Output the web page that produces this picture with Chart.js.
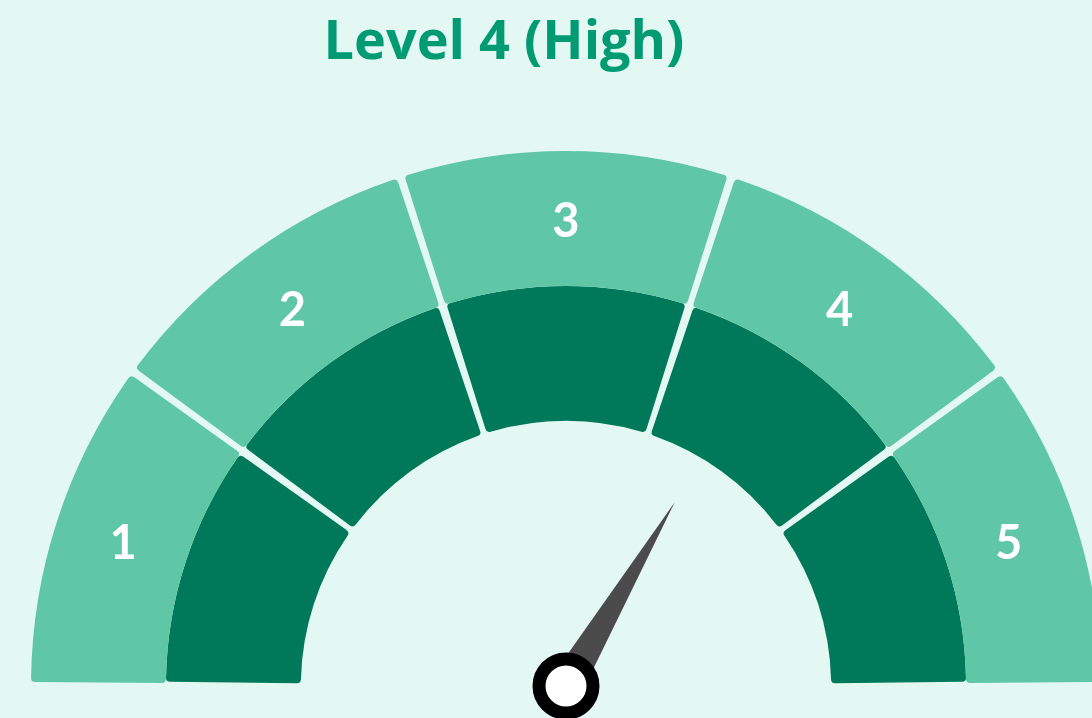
<!DOCTYPE html>
<html lang="en">
<head>
    <meta charset="UTF-8">
    <title>Level 4 (High)</title>
    <script src="https://cdn.jsdelivr.net/npm/chart.js"></script>
    <style>
        body { margin: 0; background: #e4f8f3; }
        #wrap { position: relative; width: 1092px; height: 718px; overflow: hidden; }
        h1 {
            position: absolute; top: 11px; left: 0; width: 1008px; margin: 0;
            text-align: center; font: bold 54px/54px "Open Sans", sans-serif; color: #009b72;
        }
        canvas { position: absolute; left: 0; top: 0; }
    </style>
</head>
<body>
    <div id="wrap">
        <h1 id="title"></h1>
        <canvas id="gauge" width="1092" height="718"></canvas>
    </div>

    <script>
        // gauge data
        var titleText = 'Level 4 (High)';
        var levels = ['1', '2', '3', '4', '5'];
        var bandSizes = [20, 20, 20, 20, 20];
        var gaugeValue = 67;

        var ringSpacing = 22;

        document.getElementById('title').textContent = titleText;

        // labels 1..5 in the middle of the outer ring
        var levelLabels = {
            id: 'levelLabels',
            afterDatasetsDraw: function(chart) {
                var ctx = chart.ctx;
                var arcs = chart.getDatasetMeta(0).data;
                var size = 47;
                ctx.save();
                ctx.fillStyle = '#ffffff';
                ctx.font = 'bold ' + size + 'px Lato';
                ctx.textAlign = 'center';
                ctx.textBaseline = 'alphabetic';
                arcs.forEach(function(arc, i) {
                    var a = (arc.startAngle + arc.endAngle) / 2;
                    // arcs are drawn spacing/2 further out than their radii
                    var r = (arc.innerRadius + arc.outerRadius) / 2 + ringSpacing / 2 - 2;
                    var x = arc.x + Math.cos(a) * r;
                    var y = arc.y + Math.sin(a) * r + size * 0.36;
                    ctx.fillText(levels[i], x, y);
                });
                ctx.restore();
            }
        };

        // needle pointing at gaugeValue
        var needle = {
            id: 'needle',
            afterDatasetsDraw: function(chart) {
                var ctx = chart.ctx;
                var arcs = chart.getDatasetMeta(0).data;
                var first = arcs[0], last = arcs[arcs.length - 1];
                var total = bandSizes.reduce(function(a, b) { return a + b; }, 0);
                var angle = first.startAngle + (last.endAngle - first.startAngle) * gaugeValue / total;
                var len = first.outerRadius * 0.407;
                var half = 17;
                var cx = first.x, cy = first.y;
                ctx.save();
                ctx.translate(cx, cy);
                ctx.rotate(angle);
                ctx.beginPath();
                ctx.moveTo(0, -half);
                ctx.lineTo(len, 0);
                ctx.lineTo(0, half);
                ctx.closePath();
                ctx.fillStyle = '#4b4b4b';
                ctx.fill();
                ctx.restore();

                ctx.beginPath();
                ctx.arc(cx, cy, 27, 0, Math.PI * 2);
                ctx.fillStyle = '#ffffff';
                ctx.fill();
                ctx.lineWidth = 13;
                ctx.strokeStyle = '#000000';
                ctx.stroke();
            }
        };

        new Chart(document.getElementById('gauge'), {
            type: 'doughnut',
            data: {
                labels: levels,
                datasets: [{
                    data: bandSizes,
                    backgroundColor: '#5fc7a6',
                    borderWidth: 0,
                    borderRadius: 4,
                    spacing: ringSpacing
                }, {
                    data: bandSizes,
                    backgroundColor: '#00795a',
                    borderWidth: 0,
                    borderRadius: 4,
                    spacing: ringSpacing
                }]
            },
            options: {
                responsive: false,
                animation: false,
                rotation: -90,
                circumference: 180,
                cutout: '48.5%',
                radius: 524,
                layout: { padding: { left: 40, right: 0, top: 130, bottom: 0 } },
                plugins: {
                    legend: { display: false },
                    tooltip: { enabled: false }
                }
            },
            plugins: [levelLabels, needle]
        });
    </script>
</body>
</html>
